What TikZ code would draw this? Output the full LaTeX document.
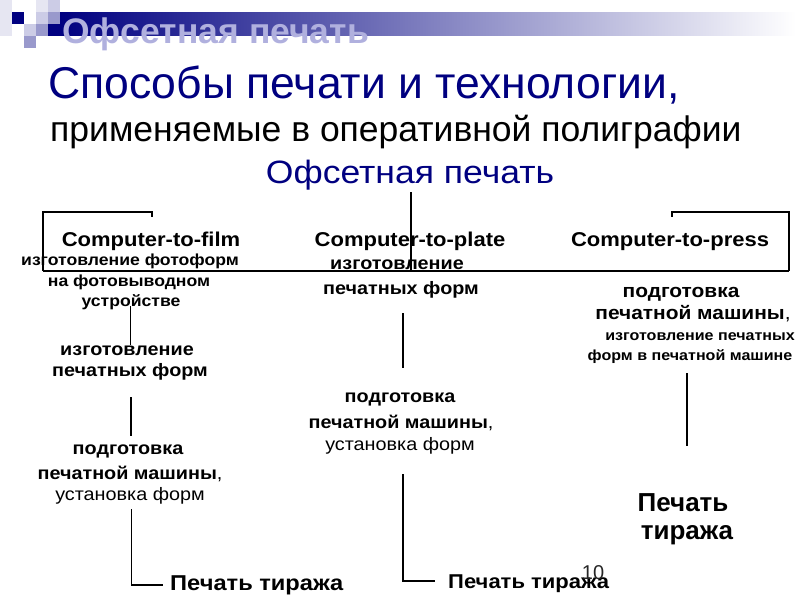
\documentclass[tikz,border=0pt]{standalone}
\usepackage{fontspec}
\setmainfont{Liberation Sans}
\newfontfamily\wide[FakeStretch=1.1]{Liberation Sans}
\definecolor{navy}{RGB}{0,0,128}
\definecolor{hdrtxt}{RGB}{176,176,222}
\definecolor{sqpale}{RGB}{230,230,242}
\definecolor{sqlight}{RGB}{204,204,230}
\definecolor{sqmid}{RGB}{153,153,204}
\begin{document}
\begin{tikzpicture}[x=1pt,y=-1pt,
  txt/.style={inner sep=0pt, anchor=base},
  ctf/.style={font=\wide\bfseries\fontsize{20}{24}\selectfont},
  sml/.style={font=\wide\bfseries\fontsize{16}{19}\selectfont},
  smr/.style={font=\wide\bfseries\fontsize{14.6}{18}\selectfont},
  med/.style={font=\wide\bfseries\fontsize{18}{22}\selectfont},
  medr/.style={font=\wide\bfseries\fontsize{19}{22}\selectfont},
  reg/.style={font=\wide\fontsize{18}{22}\selectfont},
  conn/.style={line width=1.8pt}]
\useasboundingbox (0,0) rectangle (800,600);
% header decoration
\shade[left color=navy, right color=white] (60,12) rectangle (796,35);
\fill[sqpale] (0,0) rectangle (12,36);
\fill[navy] (12,12) rectangle (24,24);
\fill[sqpale] (36,0) rectangle (48,12);
\fill[sqlight] (48,0) rectangle (60,12);
\fill[sqlight] (36,12) rectangle (48,24);
\fill[sqmid] (48,12) rectangle (60,24);
\fill[sqlight] (24,24) rectangle (36,36);
\fill[sqmid] (36,24) rectangle (48,36);
\fill[navy] (48,24) rectangle (60,36);
\fill[sqmid] (24,36) rectangle (36,48);
\node[txt, anchor=base west, text=hdrtxt, font=\bfseries\fontsize{35.5}{40}\selectfont] (hdr) at (62,43) {Офсетная печать};
% titles
\node[txt, anchor=base west, text=navy, font=\fontsize{44.5}{48}\selectfont] (title) at (48,98) {Способы печати и технологии,};
\node[txt, anchor=base west, font=\fontsize{35.5}{40}\selectfont] (sub) at (50,141) {применяемые в оперативной полиграфии};
\node[txt, text=navy, font=\wide\fontsize{32.3}{40}\selectfont] (ofs) at (410,183) {Офсетная печать};
% technologies
\node[txt, ctf] (film) at (151,246) {Computer-to-film};
\node[txt, ctf] (plate) at (410,246) {Computer-to-plate};
\node[txt, ctf] (press) at (670,246) {Computer-to-press};
% left column
\node[txt, sml] (f1a) at (130,265) {изготовление фотоформ};
\node[txt, sml] (f1b) at (129,286) {на фотовыводном};
\node[txt, sml] (f1c) at (131,306) {устройстве};
\node[txt, med] (f2a) at (127,355) {изготовление};
\node[txt, med] (f2b) at (130,376) {печатных форм};
\node[txt, med] (f3a) at (128,454) {подготовка};
\node[txt, med] (f3b) at (130,479) {печатной машины{\mdseries,}};
\node[txt, reg] (f3c) at (130,500) {установка форм};
\node[txt, anchor=base west, font=\wide\bfseries\fontsize{21.5}{24}\selectfont] (fin1) at (170,590) {Печать тиража};
% middle column
\node[txt, med] (p1a) at (397,269) {изготовление};
\node[txt, med] (p1b) at (401,294) {печатных форм};
\node[txt, med] (p2a) at (400,402) {подготовка};
\node[txt, med] (p2b) at (401,428) {печатной машины{\mdseries,}};
\node[txt, reg] (p2c) at (400,450) {установка форм};
\node[txt, anchor=base west, font=\wide\bfseries\fontsize{20}{24}\selectfont] (fin2) at (448,588) {Печать тиража};
% right column
\node[txt, medr] (r1a) at (681,297) {подготовка};
\node[txt, medr] (r1b) at (693,319) {печатной машины{\mdseries,}};
\node[txt, smr] (r1c) at (700,340) {изготовление печатных};
\node[txt, smr] (r1d) at (690,360) {форм в печатной машине};
\node[txt, font=\bfseries\fontsize{26}{30}\selectfont] (fin3a) at (683,511) {Печать};
\node[txt, font=\bfseries\fontsize{26}{30}\selectfont] (fin3b) at (687,539) {тиража};
% connector end points
\coordinate (top) at (411,192);
\coordinate (hl) at (43,271);
\coordinate (hr) at (789,271);
\coordinate (hm) at (411,271);
\coordinate (bl) at (43,212);
\coordinate (blt) at (152,212);
\coordinate (blb) at (152,217);
\coordinate (br) at (789,212);
\coordinate (brt) at (672,212);
\coordinate (brb) at (672,217);
\coordinate (l1t) at (130.5,306);
\coordinate (l1b) at (130.5,345);
\coordinate (l2t) at (131,397);
\coordinate (l2b) at (131,436);
\coordinate (l3t) at (131.5,509);
\coordinate (l3b) at (131.5,585);
\coordinate (l3e) at (163,585);
\coordinate (m1t) at (403,313);
\coordinate (m1b) at (403,368);
\coordinate (m2t) at (403,474);
\coordinate (m2b) at (403,581);
\coordinate (m2e) at (435,581);
\coordinate (r1t) at (687,373);
\coordinate (r1b) at (687,446);
% connectors
\draw[conn] (top) -- (hm);
\draw[conn] (hl) -- (hr);
\draw[conn] (hl) -- (bl) -- (blt) -- (blb);
\draw[conn] (hr) -- (br) -- (brt) -- (brb);
\draw[conn] (l1t) -- (l1b);
\draw[conn] (l2t) -- (l2b);
\draw[conn] (l3t) -- (l3b) -- (l3e);
\draw[conn] (m1t) -- (m1b);
\draw[conn] (m2t) -- (m2b) -- (m2e);
\draw[conn] (r1t) -- (r1b);
% page number (overlaps the caption, as in the reference)
\node[txt, text=black!85, font=\fontsize{20}{24}\selectfont] (pg) at (593,579) {10};
\end{tikzpicture}
\end{document}
